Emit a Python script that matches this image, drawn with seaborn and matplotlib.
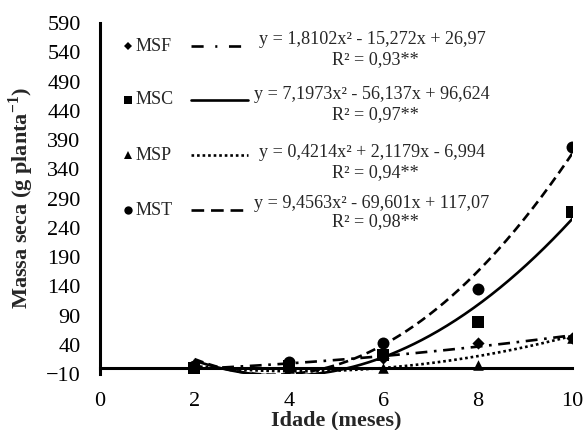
import numpy as np
import pandas as pd
import matplotlib
matplotlib.use("Agg")
import matplotlib.pyplot as plt
import seaborn as sns

# ---------------- data ----------------
idade = [2, 4, 6, 8, 10]
msf = [3, 2, 18, 44, 52]      # diamonds
msc = [1, 3, 22, 79, 267]     # squares
msp = [0, 0, 1, 6, 52]        # triangles
mst = [4, 10, 44, 136, 378]   # circles

series_labels = ["MSF", "MSC", "MSP", "MST"]
eq_labels = ["y = 1,8102x² - 15,272x + 26,97",
             "y = 7,1973x² - 56,137x + 96,624",
             "y = 0,4214x² + 2,1179x - 6,994",
             "y = 9,4563x² - 69,601x + 117,07"]
r2_labels = ["R² = 0,93**", "R² = 0,97**", "R² = 0,94**", "R² = 0,98**"]

# trend-line coefficients printed on the chart (a, b, c of ax²+bx+c)
coef_msf = [1.8102, -15.272, 26.97]
coef_msc = [7.1973, -56.137, 96.624]
coef_msp = [0.4214, 2.1179, -6.994]
coef_mst = [9.4563, -69.601, 117.07]
# in the source picture the dash-dot (diamond) curve follows the MSP equation
# and the dotted (triangle) curve follows the MSF equation
curve_coefs = [coef_msp, coef_msc, coef_msf, coef_mst]

x_ticks = [0, 2, 4, 6, 8, 10]
y_ticks = list(range(-10, 591, 50))

# ---------------- styling ----------------
sns.set_style("white")
plt.rcParams["font.family"] = ["Liberation Serif", "DejaVu Serif"]
plt.rcParams["mathtext.fontset"] = "custom"
plt.rcParams["mathtext.rm"] = "Liberation Serif"
plt.rcParams["mathtext.bf"] = "Liberation Serif:bold"

markers = ["D", "s", "^", "o"]
msizes = [6.2, 8.6, 7.6, 8.6]
leg_msizes = [3.8, 6.0, 6.2, 6.0]
lstyles = [(0, (4.5, 2.5, 1.0, 2.5)), "-", (0, (1.0, 1.1)), (0, (3.6, 2.0))]
leg_lstyles = [(0, (4.6, 4.4, 0.8, 4.4)), "-", (0, (1.0, 1.1)),
               (0, (4.8, 2.6))]
values = [msf, msc, msp, mst]

fig = plt.figure(figsize=(5.85, 4.30), dpi=100)
ax = fig.add_axes([0.171, 0.130, 0.807, 0.8165])

xs = np.linspace(2, 10, 300)
for i in range(4):
    curve = pd.DataFrame({"x": xs, "y": np.polyval(curve_coefs[i], xs)})
    sns.lineplot(data=curve, x="x", y="y", ax=ax, color="black",
                 linewidth=1.9, linestyle=lstyles[i], zorder=3)
for i in range(4):
    pts = pd.DataFrame({"x": idade, "y": values[i]})
    sns.scatterplot(data=pts, x="x", y="y", ax=ax, color="black",
                    marker=markers[i], s=msizes[i] ** 2, linewidth=0,
                    zorder=4)

ax.set_xlim(0, 10)
ax.set_ylim(-10, 590)
ax.set_xticks(x_ticks)
ax.set_yticks(y_ticks)

for s in ["top", "right"]:
    ax.spines[s].set_visible(False)
ax.spines["bottom"].set_position(("data", 0))
for s in ["left", "bottom"]:
    ax.spines[s].set_linewidth(2.2)
    ax.spines[s].set_color("black")

ax.tick_params(axis="y", direction="out", length=5, width=2, labelsize=16,
               pad=9, colors="black")
ax.tick_params(axis="x", direction="in", length=6, width=2, labelsize=16,
               pad=17, colors="black")

ax.set_xlabel("Idade (meses)", fontsize=16, fontweight="bold", labelpad=0)
ax.set_ylabel(r"Massa seca (g planta$^{\mathbf{-1}}$)", fontsize=16,
              fontweight="bold")
ax.yaxis.set_label_coords(-0.135, 0.5)

# ---------------- in-plot legend ----------------
row_y = [0.934, 0.781, 0.624, 0.467]
eq_y = [0.952, 0.795, 0.632, 0.487]
r2_y = [0.895, 0.738, 0.575, 0.433]
for i in range(4):
    ax.plot([0.059], [row_y[i]], marker=markers[i], ms=leg_msizes[i],
            color="black", mew=0, transform=ax.transAxes, clip_on=False)
    ax.text(0.076, row_y[i], series_labels[i], transform=ax.transAxes,
            fontsize=13, ha="left", va="center")
    ax.plot([0.193, 0.314], [row_y[i], row_y[i]], color="black",
            linewidth=1.9, linestyle=leg_lstyles[i], transform=ax.transAxes)
    ax.text(0.576, eq_y[i], eq_labels[i], transform=ax.transAxes,
            fontsize=13.1, ha="center", va="center")
    ax.text(0.583, r2_y[i], r2_labels[i], transform=ax.transAxes,
            fontsize=13.1, ha="center", va="center")

fig.savefig("out.png", dpi=100, facecolor="white")
